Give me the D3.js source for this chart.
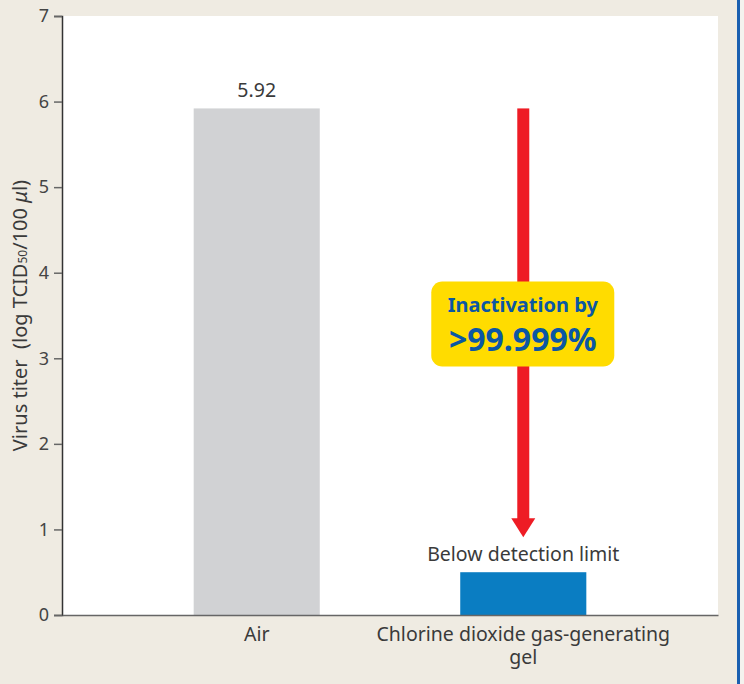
<!DOCTYPE html>
<meta charset="utf-8">
<script src="https://cdn.jsdelivr.net/npm/d3@7"></script>
<style>
    body { margin: 0; background: #efebe2; }
    text { font-family: "Noto Sans", "Open Sans", sans-serif; }
</style>
<div id="base"></div>
<script>
    // data
    var categories = ["Air", "Chlorine dioxide gas-generating gel"];
    var titers = [5.92, 0.5];
    var barLabels = ["5.92", "Below detection limit"];
    var barColors = ["#d1d2d4", "#0a7dc2"];
    var yTicks = [0, 1, 2, 3, 4, 5, 6, 7];

    var W = 744, H = 684;
    var plotLeft = 62, plotRight = 718, plotTop = 16, plotBottom = 615;

    var svg = d3.select("#base")
        .append("svg")
        .attr("width", W)
        .attr("height", H)
        .style("display", "block");

    svg.append("rect").attr("width", W).attr("height", H).attr("fill", "#efebe2");
    // blue frame line on the right
    svg.append("rect").attr("x", 737).attr("y", 0).attr("width", 3).attr("height", H).attr("fill", "#1b5fb0");
    svg.append("rect").attr("x", 740).attr("y", 0).attr("width", 4).attr("height", H).attr("fill", "#f4f2ee");

    // plot background
    svg.append("rect")
        .attr("x", plotLeft).attr("y", plotTop)
        .attr("width", plotRight - plotLeft).attr("height", plotBottom - plotTop)
        .attr("fill", "#fff");

    var x = d3.scaleBand()
        .domain(categories)
        .range([plotLeft, plotRight])
        .paddingInner(0.527)
        .paddingOuter(0.494);

    var y = d3.scaleLinear()
        .domain([0, 7])
        .range([plotBottom, plotTop]);

    // bars
    svg.append("g")
        .selectAll("rect")
        .data(categories)
        .enter()
        .append("rect")
        .attr("x", function (d) { return x(d); })
        .attr("y", function (d, i) { return y(titers[i]); })
        .attr("width", x.bandwidth())
        .attr("height", function (d, i) { return y(0) - y(titers[i]); })
        .attr("fill", function (d, i) { return barColors[i]; });

    // bar labels
    svg.append("g")
        .selectAll("text")
        .data(categories)
        .enter()
        .append("text")
        .attr("x", function (d) { return x(d) + x.bandwidth() / 2; })
        .attr("y", function (d, i) { return y(titers[i]) - 11; })
        .attr("text-anchor", "middle")
        .attr("font-size", "19.5px")
        .attr("fill", "#3a3a3a")
        .text(function (d, i) { return barLabels[i]; });

    // y axis
    var yAxis = svg.append("g")
        .attr("transform", "translate(" + plotLeft + ",0)")
        .call(d3.axisLeft(y).tickValues(yTicks).tickFormat(d3.format("d")).tickSize(8).tickPadding(5));
    yAxis.select(".domain").attr("stroke", "#333").attr("stroke-width", 1.5);
    yAxis.selectAll(".tick line").attr("stroke", "#666").attr("stroke-width", 1.5);
    yAxis.selectAll(".tick text")
        .attr("font-size", "18px")
        .attr("fill", "#444")
        .attr("font-family", "Noto Sans, sans-serif");

    // x axis, long category names wrap onto two lines
    var xAxis = svg.append("g")
        .attr("transform", "translate(0," + plotBottom + ")")
        .call(d3.axisBottom(x).tickSize(0).tickPadding(0).tickSizeOuter(0));
    xAxis.select(".domain").attr("stroke", "#666").attr("stroke-width", 1.5);
    xAxis.selectAll(".tick text").remove();
    xAxis.selectAll(".tick").each(function (d) {
        var g = d3.select(this);
        var cut = d.lastIndexOf(" ");
        var lines = d.length > 20 ? [d.slice(0, cut), d.slice(cut + 1)] : [d];
        lines.forEach(function (l, i) {
            g.append("text")
                .attr("x", 0)
                .attr("y", 26 + i * 23)
                .attr("text-anchor", "middle")
                .attr("font-size", "19.5px")
                .attr("fill", "#3a3a3a")
                .attr("font-family", "Noto Sans, sans-serif")
                .text(l);
        });
    });

    // y title
    var yt = svg.append("text")
        .attr("transform", "translate(27," + (plotTop + plotBottom) / 2 + ") rotate(-90)")
        .attr("text-anchor", "middle")
        .attr("font-size", "20px")
        .attr("fill", "#3a3a3a");
    yt.append("tspan").text("Virus titer \u00a0(log TCID");
    yt.append("tspan").attr("font-size", "12px").text("50");
    yt.append("tspan").text("/100 ");
    yt.append("tspan").attr("font-style", "italic").text("\u03bc");
    yt.append("tspan").text("l)");

    // arrow from air level down to the gel bar
    var ax = x(categories[1]) + x.bandwidth() / 2;
    var arrowTop = y(titers[0]);
    var arrowTip = y(titers[1]) - 35;
    svg.append("rect")
        .attr("x", ax - 6).attr("y", arrowTop)
        .attr("width", 12).attr("height", arrowTip - 18 - arrowTop)
        .attr("fill", "#ee1c25");
    svg.append("path")
        .attr("d", "M" + (ax - 12) + "," + (arrowTip - 19) + "L" + (ax + 12) + "," + (arrowTip - 19) + "L" + ax + "," + arrowTip + "Z")
        .attr("fill", "#ee1c25");

    // badge
    var bcx = ax - 0.5, bcy = y(3.4);
    svg.append("rect")
        .attr("x", bcx - 91.5).attr("y", bcy - 42.5)
        .attr("width", 183).attr("height", 85)
        .attr("rx", 11)
        .attr("fill", "#ffdc00");
    svg.append("text")
        .attr("x", bcx).attr("y", bcy - 12)
        .attr("text-anchor", "middle")
        .attr("font-size", "20px")
        .attr("font-weight", "bold")
        .attr("fill", "#0b57a4")
        .text("Inactivation by");
    svg.append("text")
        .attr("x", bcx).attr("y", bcy + 27)
        .attr("text-anchor", "middle")
        .attr("font-size", "32px")
        .attr("font-weight", "bold")
        .attr("fill", "#0b57a4")
        .text(">99.999%");
</script>
